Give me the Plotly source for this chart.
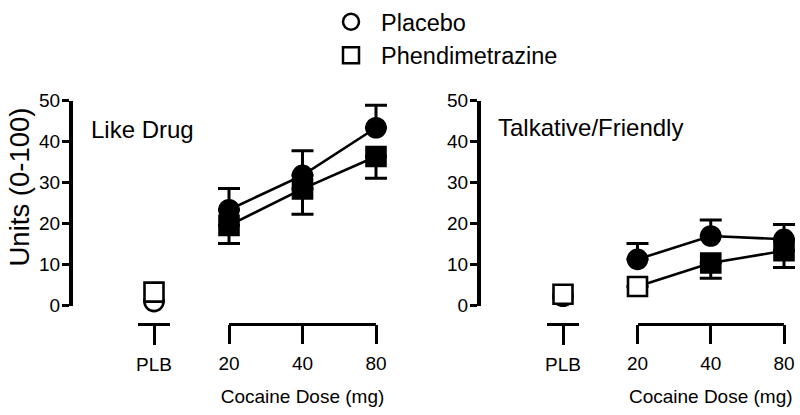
import plotly.graph_objects as go

# ---------------- data ----------------
doses = ["20", "40", "80"]
plb = ["PLB"]
panel_titles = ["Like Drug", "Talkative/Friendly"]
y_title = "Units (0-100)"
x_title = "Cocaine Dose (mg)"
y_ticks = [0, 10, 20, 30, 40, 50]

like_placebo_plb = [1.0]
like_phen_plb = [3.3]
like_placebo = [23.4, 31.8, 43.4]
like_placebo_sem = [5.2, 6.0, 5.5]
like_phen = [19.6, 28.5, 36.4]
like_phen_sem = [4.4, 6.2, 5.3]
like_phen_filled = [True, True, True]

talk_placebo_plb = [2.3]
talk_phen_plb = [2.8]
talk_placebo = [11.3, 17.0, 16.2]
talk_placebo_sem = [3.9, 3.9, 3.6]
talk_phen = [4.7, 10.4, 13.4]
talk_phen_sem = [None, 3.7, 4.1]
talk_phen_filled = [False, True, True]

# ---------------- styling / layout constants ----------------
W, H = 800, 415
FONT = "Liberation Sans, Arial, Helvetica, sans-serif"
MS = 19
LW = 2.6
PAD = 16  # px of plot area kept beyond the first/last dose so caps are not clipped


def px_x(p):
    return p / W


def px_y(p):
    return 1 - p / H


y_dom = [px_y(305.7), px_y(100.7)]
x_line_pos = px_y(324)

panels = [
    dict(yaxis_px=71, plb_dom=(138, 170), dose_ends=(229, 376), title_px=(89, 129.7)),
    dict(yaxis_px=479, plb_dom=(547, 579), dose_ends=(637.5, 784), title_px=(495.5, 127)),
]

data_sets = [
    (like_placebo_plb, like_phen_plb, like_placebo, like_placebo_sem, like_phen, like_phen_sem, like_phen_filled),
    (talk_placebo_plb, talk_phen_plb, talk_placebo, talk_placebo_sem, talk_phen, talk_phen_sem, talk_phen_filled),
]

fig = go.Figure()
layout = dict(
    width=W, height=H,
    margin=dict(l=0, r=0, t=0, b=0),
    paper_bgcolor="white", plot_bgcolor="rgba(0,0,0,0)",
    font=dict(family=FONT, color="black"),
    showlegend=True,
    legend=dict(x=px_x(321), y=1, xanchor="left", yanchor="top",
                font=dict(size=23.5, family=FONT), itemwidth=50,
                bgcolor="rgba(0,0,0,0)", tracegroupgap=0),
)
annotations = []

for i, (pan, ds) in enumerate(zip(panels, data_sets)):
    pl_plb, ph_plb, pl, pl_sem, ph, ph_sem, ph_fill = ds
    n = len(doses)
    ya = "y" if i == 0 else "y2"
    xa_plb = "x" if i == 0 else "x3"
    xa_dose = "x2" if i == 0 else "x4"
    xa_base = "x5" if i == 0 else "x6"
    ykey = "yaxis" if i == 0 else "yaxis2"
    xk_plb = "xaxis" if i == 0 else "xaxis3"
    xk_dose = "xaxis2" if i == 0 else "xaxis4"
    xk_base = "xaxis5" if i == 0 else "xaxis6"

    layout[ykey] = dict(
        domain=y_dom, anchor="free", position=px_x(pan["yaxis_px"]),
        range=[0, 50], tickvals=y_ticks, ticks="outside", ticklen=7, tickwidth=3,
        showline=True, linewidth=4, linecolor="black", tickcolor="black",
        showgrid=False, zeroline=False, automargin=False,
        tickfont=dict(size=19, family=FONT), ticklabelstandoff=-2,
    )
    common_x = dict(
        anchor="free", position=x_line_pos, type="category",
        ticks="outside", ticklen=19, tickwidth=3, tickcolor="black",
        showgrid=False, zeroline=False, automargin=False,
        tickfont=dict(size=19, family=FONT), ticklabelstandoff=3,
    )
    layout[xk_plb] = dict(common_x, domain=[px_x(pan["plb_dom"][0]), px_x(pan["plb_dom"][1])],
                          showline=True, linewidth=3, linecolor="black",
                          categoryorder="array", categoryarray=plb, range=[-0.5, 0.5])
    # dose axis: plot area padded a little on each side so error-bar caps are not clipped
    a, b = pan["dose_ends"]
    step = (b - a) / (n - 1)
    r = PAD / step
    layout[xk_dose] = dict(common_x, domain=[px_x(a - PAD), px_x(b + PAD)],
                           showline=False,
                           categoryorder="array", categoryarray=doses, range=[-r, n - 1 + r],
                           title=dict(text=x_title, font=dict(size=19, family=FONT), standoff=16))
    # broken-axis baseline: an axis whose line spans exactly first..last dose
    layout[xk_base] = dict(anchor="free", position=x_line_pos, type="category",
                           domain=[px_x(a), px_x(b)], categoryorder="array", categoryarray=doses,
                           range=[0, n - 1], showline=True, linewidth=3, linecolor="black",
                           ticks="", showticklabels=False, showgrid=False, zeroline=False,
                           automargin=False)
    fig.add_trace(go.Scatter(x=doses, y=[None] * n, xaxis=xa_base, yaxis=ya, mode="markers",
                             showlegend=False, hoverinfo="skip"))

    # PLB points (open markers, not connected)
    fig.add_trace(go.Scatter(
        x=plb, y=pl_plb, xaxis=xa_plb, yaxis=ya, mode="markers", showlegend=False,
        marker=dict(symbol="circle", size=MS, color="white", line=dict(color="black", width=LW)),
        cliponaxis=False))
    fig.add_trace(go.Scatter(
        x=plb, y=ph_plb, xaxis=xa_plb, yaxis=ya, mode="markers", showlegend=False,
        marker=dict(symbol="square", size=MS, color="white", line=dict(color="black", width=LW)),
        cliponaxis=False))

    # cocaine dose curves
    fig.add_trace(go.Scatter(
        x=doses, y=pl, xaxis=xa_dose, yaxis=ya, mode="lines+markers", showlegend=False,
        line=dict(color="black", width=LW),
        marker=dict(symbol="circle", size=MS, color="black", line=dict(color="black", width=LW)),
        error_y=dict(type="data", symmetric=False, array=pl_sem, arrayminus=[0] * n,
                     color="black", thickness=3, width=11),
        cliponaxis=False))
    fig.add_trace(go.Scatter(
        x=doses, y=ph, xaxis=xa_dose, yaxis=ya, mode="lines+markers", showlegend=False,
        line=dict(color="black", width=LW),
        marker=dict(symbol="square", size=MS, color=["black" if f else "white" for f in ph_fill],
                    line=dict(color="black", width=LW)),
        error_y=dict(type="data", symmetric=False, array=[0 if s is not None else None for s in ph_sem],
                     arrayminus=ph_sem, color="black", thickness=3, width=11),
        cliponaxis=False))

    annotations.append(dict(
        text=panel_titles[i], xref="paper", yref="paper",
        x=px_x(pan["title_px"][0]), y=px_y(pan["title_px"][1]),
        xanchor="left", yanchor="middle", showarrow=False,
        font=dict(size=24, family=FONT, color="black")))

# y-axis title (left panel only)
annotations.append(dict(
    text=y_title, xref="paper", yref="paper", x=px_x(19), y=px_y(187.5),
    xanchor="center", yanchor="middle", textangle=-90, showarrow=False,
    font=dict(size=27.5, family=FONT, color="black")))

# legend entries
fig.add_trace(go.Scatter(
    x=[None], y=[None], xaxis="x2", yaxis="y", mode="markers", name="Placebo",
    marker=dict(symbol="circle", size=17, color="white", line=dict(color="black", width=2.5))))
fig.add_trace(go.Scatter(
    x=[None], y=[None], xaxis="x2", yaxis="y", mode="markers", name="Phendimetrazine",
    marker=dict(symbol="square", size=17, color="white", line=dict(color="black", width=2.5))))

layout["annotations"] = annotations
fig.update_layout(**layout)
fig.write_html("out.html", config={"displayModeBar": False},
               post_script="document.body.style.margin='0px';")
